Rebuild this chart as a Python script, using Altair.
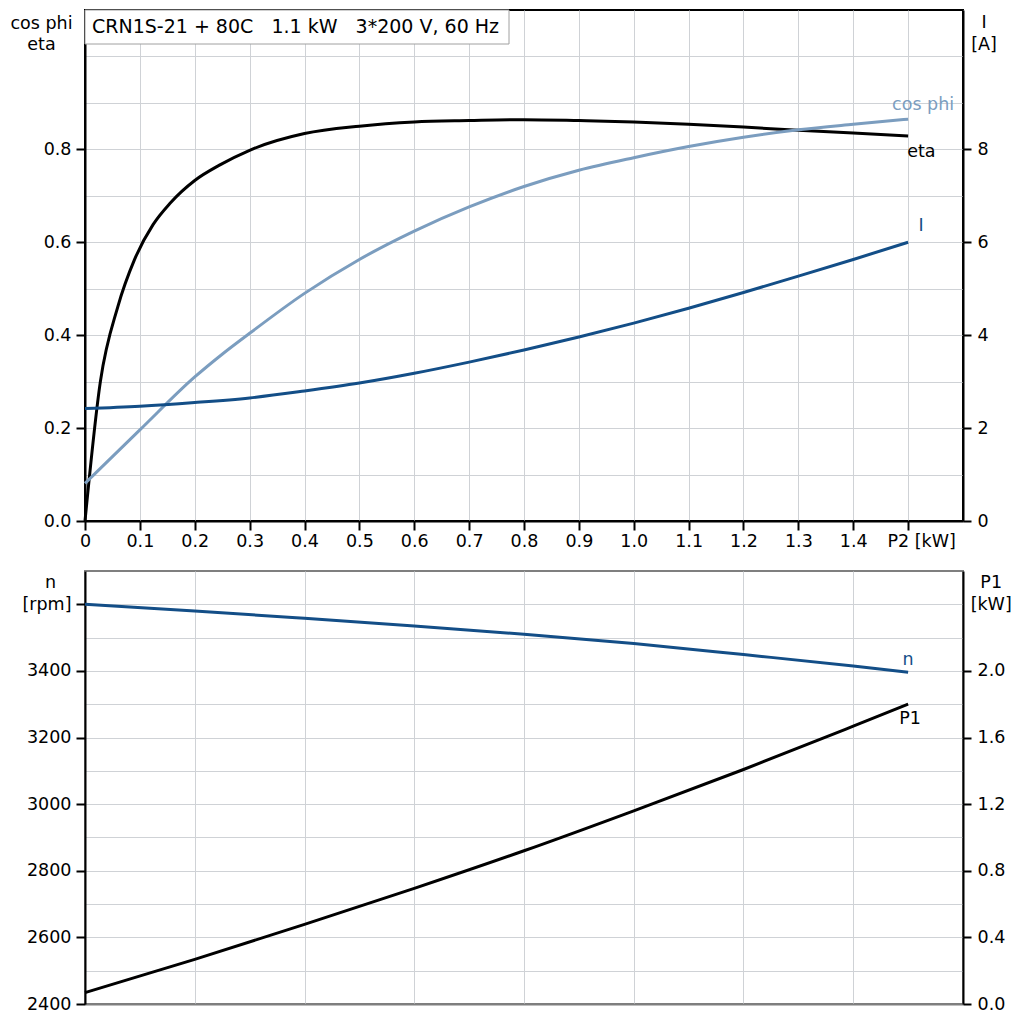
import altair as alt
import pandas as pd

FONT = "DejaVu Sans"
FS = 17.5
BLACK = "#000000"
LIGHT = "#7b9dbf"
DARK = "#134e87"
GRID = "#cfd2d6"
FRAME = "#7f7f7f"

TITLE_TEXT = "CRN1S-21 + 80C\u00a0\u00a0 1.1 kW\u00a0\u00a0 3*200 V, 60 Hz"

# ---- top panel data ----
eta_p2 = [0.0, 0.028, 0.06, 0.09, 0.124, 0.155, 0.2, 0.245,
          0.3, 0.4, 0.5, 0.6, 0.7, 0.8, 0.9, 1.0, 1.1, 1.2, 1.3, 1.4, 1.5]
eta = [0.0, 0.30, 0.462, 0.562, 0.638, 0.684, 0.733, 0.766,
       0.798, 0.834, 0.850, 0.859, 0.862, 0.864, 0.862, 0.859, 0.854, 0.848, 0.841, 0.835, 0.829]

cos_p2 = [0.0, 0.1, 0.2, 0.25, 0.3, 0.4, 0.5, 0.6, 0.7, 0.8, 0.9, 1.0, 1.1, 1.2, 1.3, 1.4, 1.5]
cos_phi = [0.081, 0.196, 0.310, 0.359, 0.404, 0.490, 0.563, 0.624, 0.676, 0.72, 0.755, 0.782,
           0.806, 0.826, 0.842, 0.854, 0.865]

cur_p2 = [0.0, 0.1, 0.2, 0.3, 0.4, 0.5, 0.6, 0.7, 0.8, 0.9, 1.0, 1.1, 1.2, 1.3, 1.4, 1.5]
current = [2.42, 2.47, 2.55, 2.65, 2.80, 2.97, 3.18, 3.42, 3.68, 3.96, 4.26, 4.58,
           4.92, 5.27, 5.63, 6.0]

# ---- bottom panel data ----
p2_b = [0.0, 0.2, 0.4, 0.6, 0.8, 1.0, 1.2, 1.4, 1.5]
speed = [3600, 3580, 3558, 3535, 3510, 3482, 3449, 3415, 3396]
p1 = [0.068, 0.268, 0.478, 0.694, 0.92, 1.16, 1.408, 1.668, 1.80]

eta_df = pd.DataFrame({"P2": eta_p2, "value": eta})
cos_df = pd.DataFrame({"P2": cos_p2, "value": cos_phi})
cur_df = pd.DataFrame({"P2": cur_p2, "value": current})
n_df = pd.DataFrame({"P2": p2_b, "value": speed})
p1_df = pd.DataFrame({"P2": p2_b, "value": p1})


def last(df, label):
    return pd.DataFrame({"P2": [df["P2"].iloc[-1]], "value": [df["value"].iloc[-1]], "label": [label]})


common_axis = dict(
    labelFont=FONT, labelFontSize=FS, labelColor=BLACK,
    titleFont=FONT, titleFontSize=FS, titleFontWeight="normal", titleColor=BLACK,
    domainColor=BLACK, domainWidth=2, tickColor=BLACK, tickWidth=2,
    labelOverlap=False, labelFlush=False,
)

# ---------------- TOP PANEL ----------------
x_top_axis = alt.Axis(
    values=[round(i * 0.1, 1) for i in range(17)],
    grid=True, gridColor=GRID, gridWidth=1,
    tickSize=9, labelPadding=2, title=None,
    labelExpr="datum.value == 0 ? '0' : (datum.value > 1.55 ? '' : (datum.value > 1.45 ? 'P2 [kW]' : format(datum.value, '.1f')))",
    tickOpacity={"condition": {"test": "datum.value > 1.55", "value": 0}, "value": 1},
    labelOffset={"condition": {"test": "datum.value > 1.45 && datum.value < 1.55", "value": 13}, "value": 0},
    **common_axis,
)
x_top = alt.X("P2:Q", scale=alt.Scale(domain=[0, 1.6], nice=False, zero=False), axis=x_top_axis)

left_test = "round(datum.value * 10) % 2 == 0 && datum.value < 0.85"
y_left_axis = alt.Axis(
    values=[round(i * 0.1, 1) for i in range(11)],
    grid=True, gridColor=GRID, gridWidth=1,
    tickSize=9, labelPadding=5,
    labelExpr=f"{left_test} ? format(datum.value, '.1f') : ''",
    tickOpacity={"condition": {"test": left_test, "value": 1}, "value": 0},
    title=["cos phi", "eta"], titleAngle=0, titleAlign="center", titleBaseline="alphabetic",
    titleX=-44, titleY=18, titleLineHeight=21.7,
    **common_axis,
)
y_left = alt.Y("value:Q", scale=alt.Scale(domain=[0, 1.1], nice=False, zero=False), axis=y_left_axis)

y_right_axis = alt.Axis(
    orient="right", values=[0, 2, 4, 6, 8], grid=False,
    tickSize=8, labelPadding=6, format="d",
    title=["I", "[A]"], titleAngle=0, titleAlign="center", titleBaseline="alphabetic",
    titleX=20.5, titleY=17.5, titleLineHeight=22,
    **common_axis,
)
y_right = alt.Y("value:Q", scale=alt.Scale(domain=[0, 11], nice=False, zero=False), axis=y_right_axis)

eta_line = alt.Chart(eta_df).mark_line(color=BLACK, strokeWidth=3, interpolate="monotone").encode(x=x_top, y=y_left)
cos_line = alt.Chart(cos_df).mark_line(color=LIGHT, strokeWidth=3, interpolate="monotone").encode(x=x_top, y=y_left)
eta_lbl = alt.Chart(last(eta_df, "eta")).mark_text(
    align="left", baseline="middle", dx=-1, dy=16, color=BLACK, font=FONT, fontSize=FS
).encode(x=x_top, y=y_left, text="label:N")
cos_lbl = alt.Chart(last(cos_df, "cos phi")).mark_text(
    align="center", baseline="middle", dx=15, dy=-14, color=LIGHT, font=FONT, fontSize=FS
).encode(x=x_top, y=y_left, text="label:N")
left_group = alt.layer(eta_line, cos_line, eta_lbl, cos_lbl)

cur_line = alt.Chart(cur_df).mark_line(color=DARK, strokeWidth=3, interpolate="monotone").encode(x=x_top, y=y_right)
cur_lbl = alt.Chart(last(cur_df, "I")).mark_text(
    align="center", baseline="middle", dx=13, dy=-16, color=DARK, font=FONT, fontSize=FS
).encode(x=x_top, y=y_right, text="label:N")
right_group = alt.layer(cur_line, cur_lbl)

one = pd.DataFrame({"k": [0]})
box = alt.Chart(one).mark_rect(fill="white", stroke="#a0a0a0", strokeWidth=1).encode(
    x=alt.value(0), x2=alt.value(424), y=alt.value(0), y2=alt.value(34)
)
box_text = alt.Chart(one).mark_text(
    align="left", baseline="alphabetic", font=FONT, fontSize=19, color=BLACK
).encode(x=alt.value(7), y=alt.value(23), text=alt.value(TITLE_TEXT))

top = alt.layer(left_group, right_group, box, box_text).resolve_scale(y="independent").properties(
    width=878, height=511, view=alt.ViewBackground(stroke=BLACK, strokeWidth=2)
)

# ---------------- BOTTOM PANEL ----------------
x_bot_axis = alt.Axis(
    values=[round(i * 0.2, 1) for i in range(9)],
    grid=True, gridColor=GRID, gridWidth=1,
    labels=False, ticks=False, title=None,
    domainColor=FRAME, domainWidth=2,
)
x_bot = alt.X("P2:Q", scale=alt.Scale(domain=[0, 1.6], nice=False, zero=False), axis=x_bot_axis)

n_tick_test = "datum.value % 200 == 0"
y_n_axis = alt.Axis(
    values=list(range(2400, 3601, 100)),
    grid=True, gridColor=GRID, gridWidth=1,
    tickSize=9, labelPadding=5,
    labelExpr="datum.value == 3600 ? '[rpm]' : (datum.value % 200 == 0 ? format(datum.value, 'd') : '')",
    tickOpacity={"condition": {"test": n_tick_test, "value": 1}, "value": 0},
    title="n", titleAngle=0, titleAlign="center", titleBaseline="alphabetic",
    titleX=-35, titleY=16,
    **common_axis,
)
y_n = alt.Y("value:Q", scale=alt.Scale(domain=[2400, 3700], nice=False, zero=False), axis=y_n_axis)

y_p1_axis = alt.Axis(
    orient="right", values=[0.0, 0.4, 0.8, 1.2, 1.6, 2.0], grid=False,
    tickSize=8, labelPadding=6, format=".1f",
    title=["P1", "[kW]"], titleAngle=0, titleAlign="center", titleBaseline="alphabetic",
    titleX=27.7, titleY=16.3, titleLineHeight=22.7,
    **common_axis,
)
y_p1 = alt.Y("value:Q", scale=alt.Scale(domain=[0, 2.6], nice=False, zero=False), axis=y_p1_axis)

n_line = alt.Chart(n_df).mark_line(color=DARK, strokeWidth=3, interpolate="monotone").encode(x=x_bot, y=y_n)
n_lbl = alt.Chart(last(n_df, "n")).mark_text(
    align="center", baseline="middle", dx=0, dy=-12, color=DARK, font=FONT, fontSize=FS
).encode(x=x_bot, y=y_n, text="label:N")
p1_line = alt.Chart(p1_df).mark_line(color=BLACK, strokeWidth=3, interpolate="monotone").encode(x=x_bot, y=y_p1)
p1_lbl = alt.Chart(last(p1_df, "P1")).mark_text(
    align="center", baseline="middle", dx=2, dy=15, color=BLACK, font=FONT, fontSize=FS
).encode(x=x_bot, y=y_p1, text="label:N")

bottom = alt.layer(alt.layer(n_line, n_lbl), alt.layer(p1_line, p1_lbl)).resolve_scale(y="independent").properties(
    width=878, height=433, view=alt.ViewBackground(stroke=FRAME, strokeWidth=2)
)

chart = alt.vconcat(top, bottom, spacing=19).properties(
    padding={"left": 0, "top": 0, "right": 0, "bottom": 0}
).configure(font=FONT).configure_text(font=FONT)

chart.save("out.html", embed_options={"renderer": "svg", "actions": False})
